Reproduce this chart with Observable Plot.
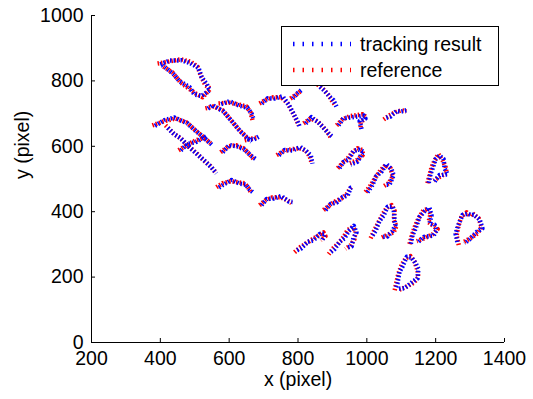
<!DOCTYPE html>
<html>
<head>
<meta charset="utf-8">
<script src="https://cdn.jsdelivr.net/npm/d3@7"></script>
<script src="https://cdn.jsdelivr.net/npm/@observablehq/plot@0.6"></script>
<style>
  html, body { margin: 0; padding: 0; background: #fff; }
  #wrap { position: relative; width: 533px; height: 399px; font-family: "Liberation Sans", Arial, sans-serif; }
  #legend { position: absolute; left: 281px; top: 26px; width: 218px; height: 60px; box-sizing: border-box;
            border: 1px solid #000; background: #fff; }
  .row { position: absolute; left: 0; height: 22px; }
  .row svg { position: absolute; left: 9px; top: 6px; }
  .row span { position: absolute; left: 78px; top: 0; font-size: 19.5px; line-height: 22px; white-space: nowrap; color: #000; }
</style>
</head>
<body>
<div id="wrap"></div>
<script>
const xDomain = [200, 1400];
const yDomain = [0, 1000];
const xTicks = [200, 400, 600, 800, 1000, 1200, 1400];
const yTicks = [0, 200, 400, 600, 800, 1000];
const seriesNames = ["tracking result", "reference"];
const seriesColors = ["#0000ff", "#ff0000"];

// reference trajectories (x, y in pixel units)
const referenceTracks = [
  [[392,853],[424,859],[459,866],[488,859],[508,844],[517,817],[531,786],[546,777],[523,750],[502,762],[482,777],[459,795],[435,826],[409,844]],
  [[377,664],[409,676],[444,685],[476,673],[502,649],[526,627],[546,609]],
  [[415,664],[438,640],[462,621],[482,600],[505,579],[526,557],[546,539],[560,521]],
  [[453,588],[476,603],[502,618],[531,627]],
  [[531,716],[555,722],[581,710],[598,689],[613,670],[630,649],[648,631],[662,618]],
  [[569,731],[598,734],[627,728],[650,722],[662,704],[668,679]],
  [[575,582],[598,600],[621,603],[642,594],[659,576],[674,557]],
  [[645,618],[668,624],[685,627]],
  [[563,475],[581,487],[604,493],[627,490],[645,487],[656,472],[665,456]],
  [[688,420],[706,435],[726,444],[749,444],[770,435],[781,426]],
  [[688,731],[709,743],[729,750],[752,750],[770,731],[784,704],[796,679],[802,664]],
  [[778,746],[796,759],[807,768]],
  [[816,670],[836,685],[857,676],[871,661],[886,643],[895,627]],
  [[857,789],[874,774],[889,756],[900,737],[909,725]],
  [[912,664],[929,682],[950,692],[970,695],[988,698],[999,689],[982,673],[982,655]],
  [[1049,682],[1066,695],[1083,704],[1101,710],[1115,707]],
  [[738,573],[758,585],[781,591],[804,594],[822,588],[834,569],[839,551]],
  [[915,533],[929,548],[944,563],[959,582],[973,594],[988,588],[988,573],[970,557],[950,548]],
  [[996,460],[1011,481],[1025,505],[1040,527],[1054,542],[1069,533],[1075,508],[1063,487],[1049,478]],
  [[1176,487],[1182,511],[1188,536],[1197,557],[1208,576],[1220,557],[1229,536],[1232,518],[1214,508],[1194,496]],
  [[874,405],[892,420],[909,432],[927,441],[941,453],[950,469],[956,478]],
  [[790,276],[807,292],[825,304],[842,316],[860,328],[874,337],[880,325],[866,313]],
  [[889,270],[903,289],[918,304],[932,322],[944,344],[959,353],[967,340],[964,316],[953,298],[938,286]],
  [[1011,319],[1022,344],[1034,368],[1046,392],[1057,411],[1072,420],[1081,402],[1078,374],[1086,356],[1078,337],[1057,328],[1040,319]],
  [[1124,301],[1130,325],[1139,353],[1150,380],[1165,405],[1179,408],[1185,392],[1179,368],[1194,356],[1206,347],[1191,331],[1168,319],[1145,310]],
  [[1267,298],[1261,328],[1267,359],[1275,386],[1290,398],[1301,386],[1307,395],[1325,380],[1333,353],[1322,334],[1301,319],[1281,307]],
  [[1081,160],[1086,185],[1092,212],[1101,237],[1113,258],[1127,264],[1139,246],[1147,221],[1150,200],[1136,182],[1113,170],[1092,160]]
];

// tracking-result trajectories
const trackingTracks = [
  [[395,849],[427,862],[462,863],[485,855],[511,840],[520,812],[535,790],[543,771],[520,754],[499,758],[485,781],[456,799],[438,821],[406,848]],
  [[380,660],[412,680],[441,688],[479,670],[505,645],[522,631],[549,605]],
  [[418,660],[441,636],[459,625],[485,596],[508,575],[523,561],[549,535],[563,517]],
  [[456,584],[479,607],[505,614],[534,631]],
  [[534,712],[552,726],[584,706],[601,685],[610,674],[633,645],[651,627],[665,614]],
  [[572,727],[601,738],[630,724],[653,718],[665,700],[671,683]],
  [[578,578],[601,604],[624,599],[645,590],[662,572],[677,561]],
  [[648,622],[671,620],[688,631]],
  [[566,471],[584,483],[607,497],[630,486],[648,483],[659,468],[668,460]],
  [[691,416],[709,439],[729,440],[752,448],[773,431],[784,430]],
  [[691,727],[712,747],[732,746],[755,753],[773,727],[787,700],[799,675],[805,660]],
  [[781,742],[799,763],[810,772]],
  [[819,666],[839,689],[860,672],[874,657],[889,639],[898,631]],
  [[860,785],[877,770],[892,752],[903,741],[912,721]],
  [[915,660],[932,686],[953,688],[973,691],[991,694],[996,685],[979,677],[985,651]],
  [[1052,686],[1069,691],[1086,708],[1098,706],[1118,711]],
  [[741,569],[761,589],[784,587],[807,598],[825,584],[837,573],[842,547]],
  [[918,529],[932,552],[947,559],[962,586],[976,590],[991,584],[985,577],[973,553],[953,544]],
  [[999,456],[1014,477],[1028,509],[1043,523],[1057,546],[1072,529],[1078,512],[1066,483],[1052,482]],
  [[1179,483],[1185,515],[1191,532],[1200,561],[1211,572],[1223,561],[1226,532],[1235,514],[1211,512],[1197,492]],
  [[877,401],[895,424],[912,428],[930,445],[944,449],[953,473],[959,474]],
  [[793,280],[810,288],[828,308],[845,312],[863,332],[877,333],[877,329],[869,309]],
  [[892,274],[906,285],[921,308],[935,318],[947,340],[962,357],[970,336],[961,320],[956,294],[941,290]],
  [[1014,323],[1025,340],[1037,372],[1049,388],[1060,415],[1075,416],[1078,406],[1081,370],[1083,360],[1075,341],[1060,324],[1043,323]],
  [[1127,297],[1133,329],[1142,349],[1153,384],[1168,401],[1182,412],[1188,388],[1182,364],[1197,360],[1203,343],[1194,327],[1165,323],[1148,306]],
  [[1264,302],[1258,332],[1264,355],[1278,390],[1293,394],[1304,390],[1310,391],[1328,376],[1336,349],[1319,338],[1298,315],[1284,303]],
  [[1084,164],[1089,181],[1095,216],[1104,233],[1116,262],[1130,260],[1142,242],[1150,225],[1147,196],[1133,186],[1110,166],[1089,164]]
];

const toRows = (tracks) => tracks.flatMap((t, i) => t.map(([x, y]) => ({x, y, id: i})));
const refRows = toRows(referenceTracks);
const trkRows = toRows(trackingTracks);

const FONT = 19.5;
const fmt = (d) => String(d);
const chart = Plot.plot({
  width: 533,
  height: 399,
  marginLeft: 91,
  marginRight: 29,
  marginTop: 15,
  marginBottom: 57,
  x: {domain: xDomain},
  y: {domain: yDomain},
  style: {fontFamily: '"Liberation Sans", Arial, sans-serif', fontSize: FONT + "px", background: "#fff", color: "#000", overflow: "visible"},
  marks: [
    Plot.line(refRows, {x: "x", y: "y", z: "id", stroke: seriesColors[1], strokeWidth: 4.5, strokeDasharray: "1.5,2", strokeLinecap: "butt"}),
    Plot.line(trkRows, {x: "x", y: "y", z: "id", stroke: seriesColors[0], strokeWidth: 4.5, strokeDasharray: "1.5,2", strokeDashoffset: 1.8, strokeLinecap: "butt"}),
    Plot.ruleX([xDomain[0]], {stroke: "#000", strokeWidth: 1}),
    Plot.ruleY([yDomain[0]], {stroke: "#000", strokeWidth: 1}),
    Plot.axisX(xTicks, {tickSize: -4, tickPadding: 13, tickFormat: fmt, label: null, fontSize: FONT, stroke: "#000"}),
    Plot.axisY(yTicks, {tickSize: -4, tickPadding: 12, tickFormat: fmt, label: null, fontSize: FONT, stroke: "#000"}),
    Plot.text(["x (pixel)"], {frameAnchor: "bottom", dy: 43, fontSize: FONT, fill: "#000"}),
    Plot.text(["y (pixel)"], {frameAnchor: "left", dx: -69, rotate: -90, fontSize: FONT, fill: "#000"})
  ]
});

const wrap = document.getElementById("wrap");
wrap.appendChild(chart);

const legend = document.createElement("div");
legend.id = "legend";
seriesNames.forEach((name, i) => {
  const row = document.createElement("div");
  row.className = "row";
  row.style.top = (6 + i * 26) + "px";
  row.style.width = "100%";
  row.innerHTML = `<svg width="62" height="10"><line x1="2" x2="60" y1="5" y2="5" stroke="${seriesColors[i]}" stroke-width="4.5" stroke-dasharray="1.5,8" stroke-linecap="butt"/></svg><span>${name}</span>`;
  legend.appendChild(row);
});
wrap.appendChild(legend);
</script>
</body>
</html>
